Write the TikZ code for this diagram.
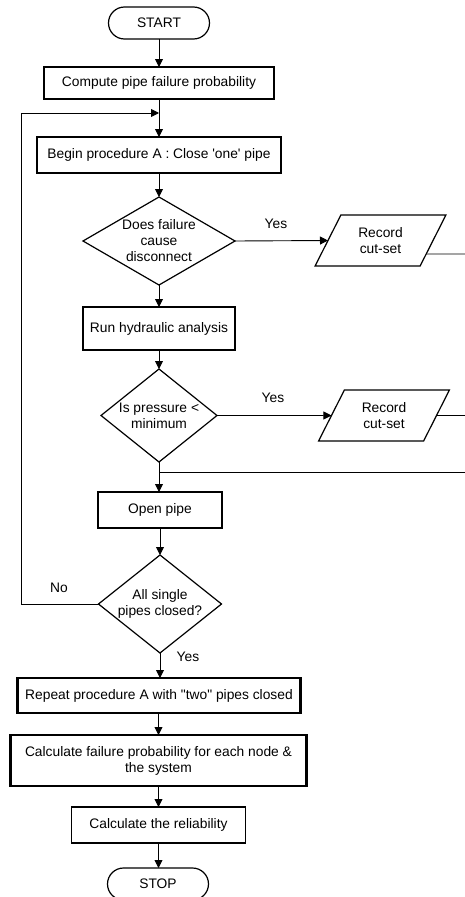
\documentclass[tikz,border=0pt]{standalone}
\usepackage{fontspec}
\setmainfont{Liberation Sans}[Ligatures=TeXOff]
\usetikzlibrary{shapes.geometric,arrows.meta,calc}
\begin{document}
\begin{tikzpicture}[x=1pt,y=-1pt,
  every node/.style={font=\fontsize{13.8}{16}\selectfont, inner sep=0pt, outer sep=0pt},
  term/.style={draw, line width=1.2pt, rounded corners=16pt, minimum width=101pt, minimum height=32pt},
  bbox/.style={draw, line width=2.2pt, align=center},
  mbox/.style={draw, line width=1.6pt, align=center},
  dec/.style={diamond, draw, line width=1.2pt},
  io/.style={trapezium, trapezium left angle=61, trapezium right angle=119,
    trapezium stretches=true, draw, line width=1.2pt, align=center,
    minimum width=131pt, minimum height=51pt},
  conn/.style={line width=0.9pt, -{Triangle[length=8pt,width=8pt]}},
  wire/.style={line width=0.9pt}
]
\useasboundingbox (0,0) rectangle (464,897);

\node[term] (start) at (159,23) {START};
\node[bbox, minimum width=230pt, minimum height=32pt] (compute) at (159,83) {Compute pipe failure probability};
\coordinate (m) at (159,113);
\coordinate (lx) at (21,113);
\node[bbox, minimum width=244pt, minimum height=36pt] (begin) at (159,155) {Begin procedure A : Close 'one' pipe};
\node[dec, minimum width=152pt, minimum height=88pt,
  label={[align=center]center:Does failure\\cause\\disconnect}] (d1) at (159,241) {};
\node[io] (rec1) at (380.5,240.5) {Record\\cut-set};
\node[mbox, minimum width=152pt, minimum height=43pt] (run) at (159,328.5) {Run hydraulic analysis};
\node[dec, minimum width=116pt, minimum height=93pt,
  label={[align=center]center:Is pressure <\\minimum}] (d2) at (159,415.5) {};
\node[io] (rec2) at (384,415.5) {Record\\cut-set};
\coordinate (j) at (159,472);
\node[bbox, minimum width=124pt, minimum height=36pt] (open) at (160,510) {Open pipe};
\node[dec, minimum width=123pt, minimum height=98pt,
  label={[align=center]center:All single\\pipes closed?}] (d3) at (160,604) {};
\node[bbox, minimum width=283pt, minimum height=35pt] (repeat) at (159,695.5) {Repeat procedure A with "two" pipes closed};
\node[bbox, minimum width=296pt, minimum height=51pt] (calcfail) at (158.5,760.5) {Calculate failure probability for each node \&\\the system};
\node[mbox, minimum width=174pt, minimum height=36pt] (calcrel) at (158.5,825) {Calculate the reliability};
\node[term] (stop) at (158,884) {STOP};

\coordinate (e1) at (470,254);
\coordinate (e2) at (470,415.5);
\coordinate (e3) at (470,472);

\node (yes1) at (276,224) {Yes};
\node (yes2) at (273,398) {Yes};
\node (yes3) at (188,657) {Yes};
\node (no) at (59,588) {No};

\draw[conn] (start) -- (compute);
\draw[conn] (compute) -- (begin);
\draw[conn] (d3.west) -| (lx) -- (m);
\draw[conn] (begin) -- (d1);
\draw[conn] (d1.east) -- (rec1.west);
\draw[wire] ($(rec1.bottom right corner)!0.235!(rec1.top right corner)$) -- (e1);
\draw[conn] (d1.south) -- (run);
\draw[conn] (run) -- (d2);
\draw[conn] (d2.east) -- (rec2.west);
\draw[wire] (rec2.east) -- (e2);
\draw[conn] (d2.south) -- (d2.south |- open.north);
\draw[wire] (j) -- (e3);
\draw[conn] (open) -- (d3);
\draw[conn] (d3.south) -- (d3.south |- repeat.north);
\draw[conn] (repeat.south -| calcfail.north) -- (calcfail.north);
\draw[conn] (calcfail) -- (calcrel);
\draw[conn] (calcrel) -- (stop.north -| calcrel.south);
\end{tikzpicture}
\end{document}
